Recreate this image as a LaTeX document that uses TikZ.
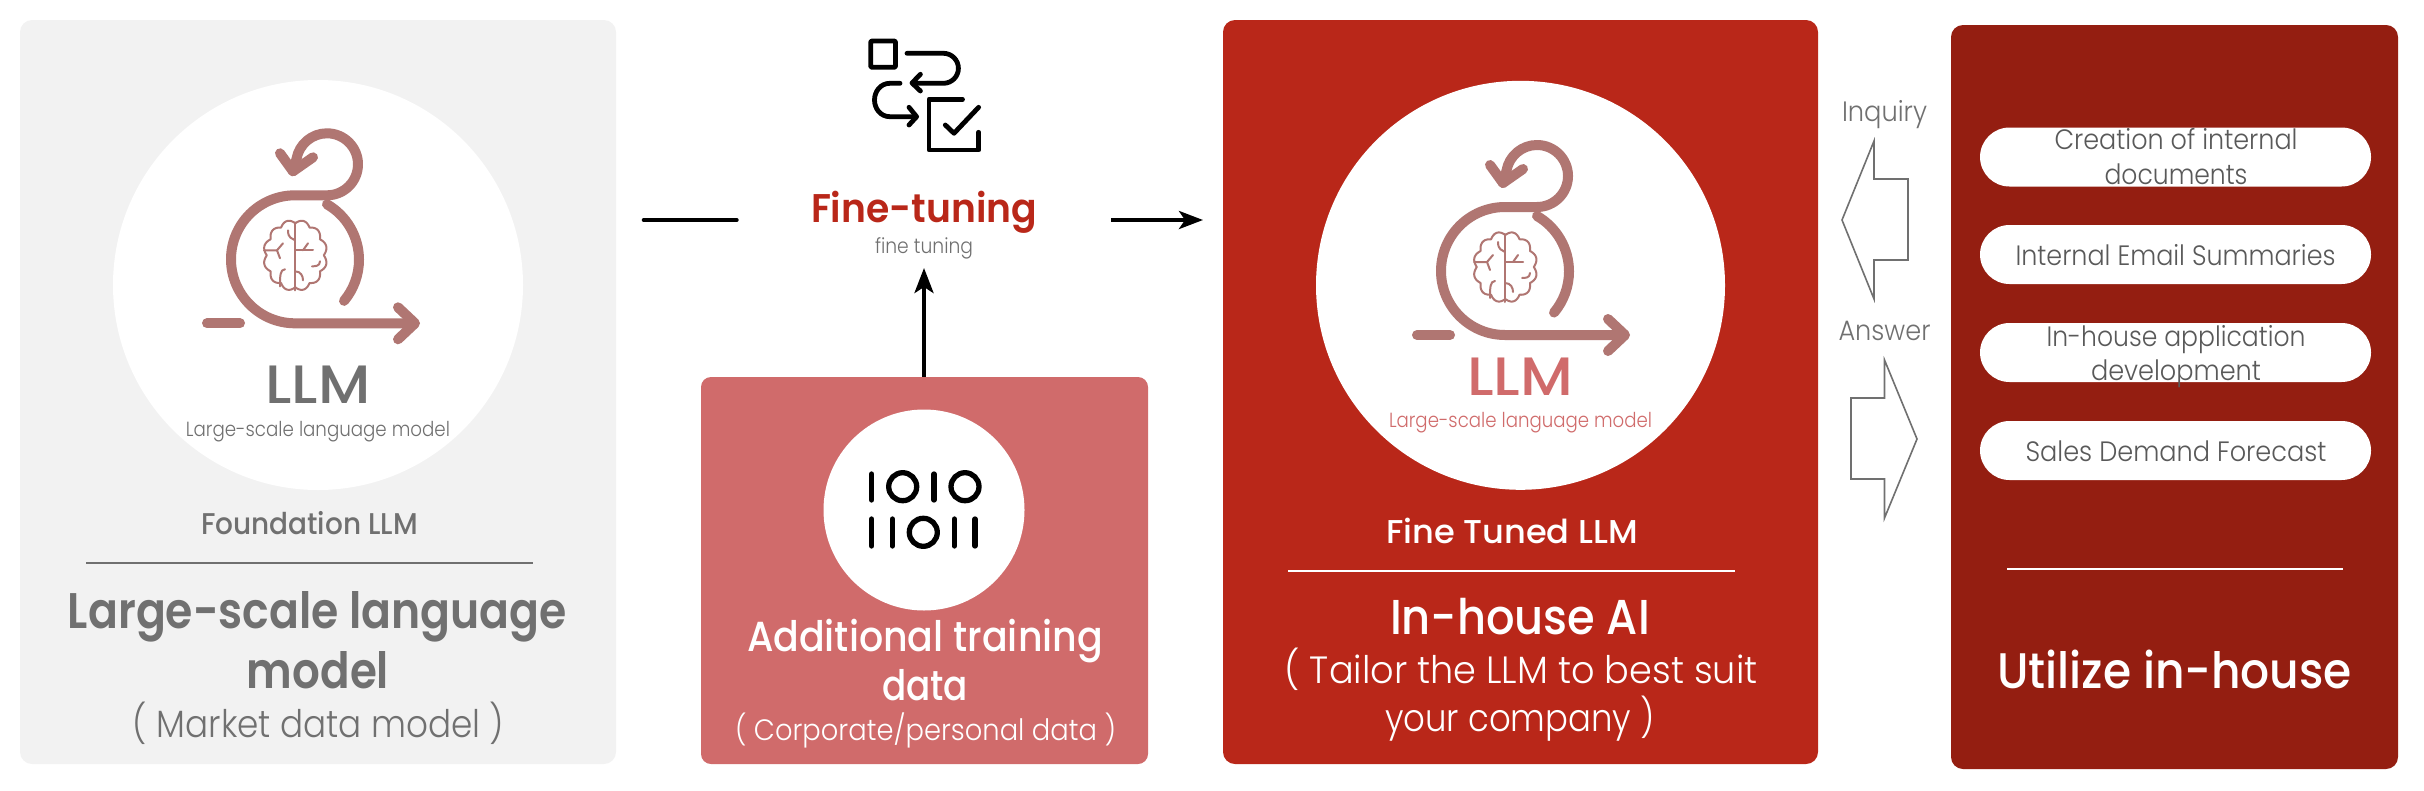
\documentclass[tikz,border=0pt]{standalone}
\usepackage{fontspec}
\usepackage{graphicx}
\setmainfont{Poppins Light}[BoldFont={Poppins Medium}]
\newfontfamily\semib{Poppins SemiBold}
\usetikzlibrary{arrows.meta,shapes.geometric}
\definecolor{panelgray}{HTML}{F2F2F2}
\definecolor{panelpink}{HTML}{D06B6B}
\definecolor{panelred}{HTML}{B92719}
\definecolor{paneldark}{HTML}{941E11}
\definecolor{iconrose}{HTML}{B07672}
\definecolor{txtgray}{HTML}{707070}
\definecolor{pilltxt}{HTML}{595959}
\newcommand{\fitw}[2]{\resizebox{#1pt}{\height}{#2}}
\newcommand{\fsz}[1]{\fontsize{#1}{#1}\selectfont}
\tikzset{
  panel/.style={rectangle,rounded corners=12pt,inner sep=0pt,draw=none},
  disc/.style={circle,fill=white,inner sep=0pt,draw=none},
  pill/.style={rectangle,rounded corners=29.5pt,fill=white,inner sep=0pt,minimum width=391pt,minimum height=59pt,anchor=center},
  lbl/.style={anchor=base,inner sep=0pt,outer sep=0pt},
  med/.style={font=\bfseries\fsz{#1}},
  sem/.style={font=\semib\fsz{#1}},
  lgt/.style={font=\fsz{#1}},
  iconline/.style={draw=iconrose,line width=10pt,line cap=round,line join=round},
  brainline/.style={draw=iconrose,line width=2pt,line cap=round,line join=round},
  blk/.style={draw=black,line width=4.8pt,line cap=round,line join=round},
  bin/.style={draw=black,line width=5.3pt,line cap=round},
  conn/.style={draw=black,line width=4pt},
  hollow/.style={draw=txtgray,line width=1.6pt,fill=white,line join=miter},
  rulepanel/.style={line width=2.4pt},
}
\newcommand{\llmicon}[2]{%
\begin{scope}[shift={(#1,#2)},y=1pt]
  \draw[iconline] (-88,-65) -- (-55,-65);
  \draw[iconline] (119,-65) -- (0,-65) arc[start angle=270,end angle=90,radius=64] -- (32,63)
     arc[start angle=-90,end angle=170,radius=31] -- (-2,87);
  \draw[iconline] (-15,105) -- (-2,87) -- (18,101);
  \draw[iconline] (32,54) arc[start angle=60,end angle=-40,radius=64];
  \draw[iconline] (103,-49) -- (120,-65) -- (103,-81);
  \draw[brainline] plot[domain=0:360,samples=145,smooth] ({0.3+(28.5+3.5*abs(sin(6*\x)))*cos(\x)},{3+(32+3.5*abs(sin(6*\x)))*sin(\x)});
  \draw[brainline] (0,36) -- (0,-32);
  \draw[brainline] (-31,8) -- (-18,8) -- (-12,15);
  \draw[brainline] (-18,8) -- (-15,0);
  \draw[brainline] (-7,28) .. controls (-7,20) and (-3,20) .. (0,18);
  \draw[brainline] (0,8) -- (18,8);
  \draw[brainline] (8,8) -- (13,15);
  \draw[brainline] (25,-3) .. controls (25,-8) and (20,-8) .. (17,-8);
  \draw[brainline] (-10,-11) .. controls (-15,-11) and (-15,-18) .. (-15,-28);
  \draw[brainline] (0,-13) .. controls (6,-13) and (8,-18) .. (8,-22);
\end{scope}}
\begin{document}
\begin{tikzpicture}[x=1pt,y=-1pt]
\useasboundingbox (0,0) rectangle (2424,790);
% panels
\node[panel,fill=panelgray,minimum width=596pt,minimum height=744pt] (pA) at (318,392) {};
\node[panel,fill=panelpink,minimum width=447pt,minimum height=387pt,rounded corners=10pt] (pB) at (924.5,570.5) {};
\node[panel,fill=panelred,minimum width=595pt,minimum height=744pt] (pC) at (1520.5,392) {};
\node[panel,fill=paneldark,minimum width=447pt,minimum height=744pt] (pD) at (2174.5,397) {};
% discs
\node[disc,minimum size=410pt] (dA) at (318,285) {};
\node[disc,minimum size=201pt] (dB) at (924,510) {};
\node[disc,minimum size=409pt] (dC) at (1520.5,285.3) {};
% LLM icons
\llmicon{295}{258.3}
\llmicon{1505}{270}
% left panel text
\node[lbl,med=54,text=txtgray] (a1) at (318,403) {\fitw{105}{LLM}};
\node[lbl,lgt=20.5,text=txtgray] (a2) at (318,436) {\fitw{264}{Large-scale language model}};
\node[lbl,med=30,text=txtgray] (a3) at (309.5,534) {\fitw{217}{Foundation LLM}};
\coordinate (a4l) at (86,563); \coordinate (a4r) at (533,563);
\draw[txtgray,rulepanel] (a4l) -- (a4r);
\node[lbl,sem=50,text=txtgray] (a5) at (317.5,628) {\fitw{499}{Large-scale language}};
\node[lbl,sem=50,text=txtgray] (a6) at (318,688) {\fitw{142}{model}};
\node[lbl,lgt=38,text=txtgray] (a7) at (318.5,737) {\fitw{371}{( Market data model )}};
% centre icon
\draw[blk,rounded corners=1pt] (870.7,41) rectangle (895.5,67.3);
\draw[blk] (907,53.3) -- (943.4,53.3) arc[start angle=-90,end angle=90,radius=15] -- (913,83.3);
\draw[blk] (920.4,74.3) -- (912,83) -- (920.4,91);
\draw[blk] (900,83.3) -- (890,83.3) .. controls (880,83.3) and (874.5,92) .. (874.5,100) .. controls (874.5,108) and (880,116.7) .. (890,116.7) -- (916,116.7);
\draw[blk] (909,107.3) -- (916.6,116.7) -- (909,125);
\draw[blk] (962.5,99.3) -- (929,99.3) -- (929,150) -- (978.6,150) -- (978.6,132.3);
\draw[blk] (945.3,125) -- (954,133.3) -- (978.6,107.3);
\node[lbl,sem=40,text=panelred] (fine) at (924,222) {\fitw{226}{Fine-tuning}};
\node[lbl,lgt=21,text=txtgray] (fine2) at (924,253) {\fitw{98}{fine tuning}};
\coordinate (lA) at (643.7,220); \coordinate (lB) at (736.7,220);
\coordinate (rA) at (1111,220); \coordinate (rB) at (1203,220);
\coordinate (uT) at (924,268);
\draw[conn,line cap=round] (lA) -- (lB);
\draw[conn,-{Stealth[length=24pt,width=18pt,inset=6pt]}] (rA) -- (rB);
\draw[conn,-{Stealth[length=25pt,width=19pt,inset=6pt]}] (pB.north -| uT) -- (uT);
% binary
\draw[bin] (871.7,474) -- (871.7,500);
\draw[bin] (902.7,486.7) circle[radius=14];
\draw[bin] (934,474) -- (934,500);
\draw[bin] (965,486.7) circle[radius=14];
\draw[bin] (871.7,519) -- (871.7,546);
\draw[bin] (892.3,519) -- (892.3,546);
\draw[bin] (923.3,532.3) circle[radius=14];
\draw[bin] (954.3,519) -- (954.3,546);
\draw[bin] (975,519) -- (975,546);
\node[lbl,med=42,text=white] (b1) at (925,651) {\fitw{356}{Additional training}};
\node[lbl,med=42,text=white] (b2) at (925,700) {\fitw{86}{data}};
\node[lbl,lgt=29.5,text=white] (b3) at (925.5,740) {\fitw{381}{( Corporate/personal data )}};
% red panel text
\node[lbl,med=54,text=panelpink] (c1) at (1520,395) {\fitw{106}{LLM}};
\node[lbl,lgt=20.5,text=panelpink] (c2) at (1520.5,427) {\fitw{263}{Large-scale language model}};
\node[lbl,med=33,text=white] (c3) at (1512,543) {\fitw{252}{Fine Tuned LLM}};
\coordinate (c4l) at (1288,571); \coordinate (c4r) at (1735,571);
\draw[white,rulepanel] (c4l) -- (c4r);
\node[lbl,med=49,text=white] (c5) at (1520,634) {\fitw{260}{In-house AI}};
\node[lbl,lgt=38,text=white] (c6) at (1521,683) {\fitw{473}{( Tailor the LLM to best suit}};
\node[lbl,lgt=38,text=white] (c7) at (1520,731) {\fitw{270}{your company )}};
% hollow arrows
\node[lbl,lgt=28,text=txtgray] (q) at (1884.5,121) {\fitw{85}{Inquiry}};
\node[lbl,lgt=28,text=txtgray] (ans) at (1884.5,340) {\fitw{92}{Answer}};
\draw[hollow] (1874,141) -- (1874,179) -- (1908,179) -- (1908,260) -- (1874,260) -- (1874,299) -- (1842,220) -- cycle;
\draw[hollow] (1884.5,360) -- (1884.5,398) -- (1851,398) -- (1851,479) -- (1884.5,479) -- (1884.5,518) -- (1917,439) -- cycle;
% pills
\node[pill] (p1) at (2175.5,157) {};
\node[pill] (p2) at (2175.5,254.5) {};
\node[pill] (p3) at (2175.5,352.5) {};
\node[pill] (p4) at (2175.5,450.5) {};
\node[lbl,lgt=28,text=pilltxt] (p1a) at (2176,149) {\fitw{243}{Creation of internal}};
\node[lbl,lgt=28,text=pilltxt] (p1b) at (2176,184) {\fitw{143}{documents}};
\node[lbl,lgt=28,text=pilltxt] (p2a) at (2175.5,265) {\fitw{320}{Internal Email Summaries}};
\node[lbl,lgt=28,text=pilltxt] (p3a) at (2176,346) {\fitw{259}{In-house application}};
\node[lbl,lgt=28,text=pilltxt] (p3b) at (2176,380) {\fitw{170}{development}};
\node[lbl,lgt=28,text=pilltxt] (p4a) at (2176,461) {\fitw{301}{Sales Demand Forecast}};
\coordinate (d1) at (2007,569); \coordinate (d2) at (2343,569);
\draw[white,rulepanel] (d1) -- (d2);
\node[lbl,med=50,text=white] (d3) at (2174.5,688) {\fitw{355}{Utilize in-house}};
\end{tikzpicture}
\end{document}
